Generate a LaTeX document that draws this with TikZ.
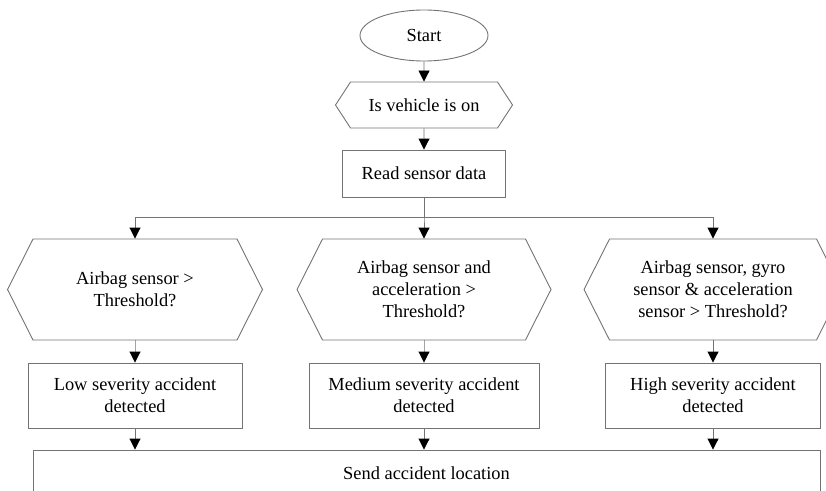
\documentclass[tikz,border=0pt]{standalone}
\usepackage{fontspec}
\setmainfont{Liberation Serif}
\usetikzlibrary{shapes.geometric, shapes.symbols, arrows.meta}

\begin{document}
\begin{tikzpicture}[
        grow=south, % flowchart grows top to bottom
        line width=0.9pt,
        every node/.style = {font=\fontsize{18.4pt}{22pt}\selectfont, align=center, inner sep=0pt},
        level 1/.style = {level distance=69.5pt},
        level 2/.style = {level distance=68.5pt},
        level 3/.style = {level distance=116pt, sibling distance=289pt,
                edge from parent path={(\tikzparentnode.south) -- ++(0,-20pt) -| (\tikzchildnode.north)}},
        level 4/.style = {level distance=106pt},
        edge from parent/.style = {draw=black!55, -{Triangle[length=11pt, width=11pt, color=black]}},
        arrow/.style = {draw=black!55, -{Triangle[length=11pt, width=11pt, color=black]}},
        term/.style = {ellipse, draw=black!55, minimum width=128pt, minimum height=51pt},
        cell/.style = {rectangle, draw=black!55, minimum height=65pt}, % process boxes
        check/.style = {signal, signal to=west and east, draw=black!55,
                signal pointer angle=126.4, minimum width=255pt, minimum height=101pt},
    ]
    \useasboundingbox (0pt,0pt) rectangle (826pt,-490pt);

    \node[term] (start) at (424pt,-35.5pt) {Start}
    child {node[check, signal pointer angle=113.8, minimum width=177pt, minimum height=46pt] (vehicle) {Is vehicle is on}
            child {node[cell, minimum width=163pt, minimum height=47pt] (read) {Read sensor data}
                    child {node[check] (airbag) {Airbag sensor >\\Threshold?}
                            child {node[cell, minimum width=214pt] (low) {Low severity accident\\detected}}}
                    child {node[check, minimum width=254pt] (accel) {Airbag sensor and\\acceleration >\\Threshold?}
                            child {node[cell, minimum width=230pt] (medium) {Medium severity accident\\detected}}}
                    child {node[check, minimum width=258pt] (gyro) {Airbag sensor, gyro\\sensor \& acceleration\\sensor > Threshold?}
                            child {node[cell, minimum width=215pt] (high) {High severity accident\\detected}}}}};

    \node[rectangle, draw=black!55, minimum width=787pt, minimum height=46pt] (send) at (426.5pt,-473pt) {Send accident location};

    \draw[arrow] (low) -- (low |- send.north);
    \draw[arrow] (medium) -- (medium |- send.north);
    \draw[arrow] (high) -- (high |- send.north);
\end{tikzpicture}
\end{document}
